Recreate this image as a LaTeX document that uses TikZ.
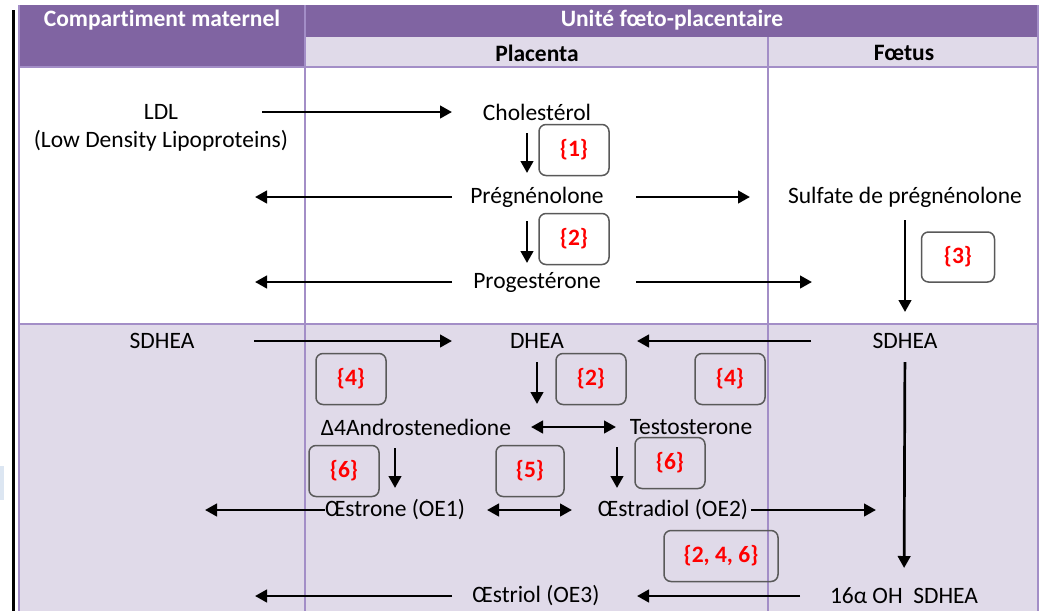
\documentclass[tikz,border=0pt]{standalone}
\usepackage{fontspec}
\setmainfont{Carlito}[Ligatures=NoCommon]
\usepackage{xcolor}
\usepackage{tikz}
\usetikzlibrary{arrows.meta}

\definecolor{hdpurple}{HTML}{8064A2}
\definecolor{lavender}{HTML}{E0DAE9}
\definecolor{gridline}{HTML}{A38EC7}
\definecolor{enzred}{HTML}{FF0000}
\definecolor{boxgray}{HTML}{595959}
\definecolor{patchblue}{HTML}{DCE6F2}

\newcommand\basefont{\fontsize{23.5}{28}\selectfont}

\tikzset{
  arr/.style={line width=2.7pt,-{Triangle[length=12pt,width=12.5pt]}},
  darr/.style={line width=2.7pt,{Triangle[length=12pt,width=12.5pt]}-{Triangle[length=12pt,width=12.5pt]}},
  enz/.style={draw=boxgray,line width=1.5pt,rounded corners=7pt,minimum width=70pt,minimum height=51pt,text=enzred,font=\basefont\bfseries},
  grid/.style={draw=gridline,line width=1.5pt},
  head/.style={text=white,font=\basefont\bfseries},
  subhead/.style={font=\basefont\bfseries},
}

\begin{document}
\begin{tikzpicture}[x=1pt,y=-1pt,font=\basefont]
\useasboundingbox (0,0) rectangle (1044,611);
% table
\fill[white] (0,0) rectangle (1044,611);
\fill[patchblue] (0,466) rectangle (4,500);
\fill[black] (11.5,10) rectangle (14.5,611);
\fill[hdpurple] (19,5) rectangle (1038,37);
\fill[hdpurple] (19,37) rectangle (305,67);
\fill[lavender] (305,37) rectangle (1038,67);
\fill[lavender] (19,324) rectangle (1038,611);
\draw[grid] (19,5) -- (19,611);
\draw[grid] (1038,5) -- (1038,611);
\draw[grid] (305,5) -- (305,611);
\draw[grid] (768,37) -- (768,611);
\draw[grid] (19,67) -- (1038,67);
\draw[grid] (19,324) -- (1038,324);

\node[head] at (162,20) (mat) {Compartiment maternel};
\node[head] at (672,20) (unit) {Unité fœto-placentaire};
\node[subhead] at (537,53) (plac) {Placenta};
\node[subhead] at (904,53) (foet) {Fœtus};

% molecules
\node at (161,112) (ldl) {LDL};
\node at (161,141) (ldlsub) {(Low Density Lipoproteins)};
\node at (537,112) (chol) {Cholestérol};
\node at (537,197) (preg) {Prégnénolone};
\node at (905,197) (spreg) {Sulfate de prégnénolone};
\node at (537,282) (prog) {Progestérone};
\node at (162,341) (sdheaM) {SDHEA};
\node at (537,341) (dhea) {DHEA};
\node at (905,341) (sdheaF) {SDHEA};
\node at (416,427) (andro) {Δ4Androstenedione};
\node at (691,427) (testo) {Testosterone};
\node at (395,510) (oe1) {Œstrone (OE1)};
\node at (673,510) (oe2) {Œstradiol (OE2)};
\node at (536,596) (oe3) {Œstriol (OE3)};
\node at (904,596) (oh) {16α OH\ \ SDHEA};

% enzymes
\node[enz] at (574,150) (e1) {\{1\}};
\node[enz] at (574,239) (e2) {\{2\}};
\node[enz,minimum width=73pt,minimum height=50pt] at (958,257) (e3) {\{3\}};
\node[enz] at (351,379) (e4a) {\{4\}};
\node[enz] at (591,379) (e2b) {\{2\}};
\node[enz] at (730,379) (e4b) {\{4\}};
\node[enz] at (344,471) (e6a) {\{6\}};
\node[enz,minimum width=68pt] at (530,471) (e5) {\{5\}};
\node[enz] at (670,463) (e6b) {\{6\}};
\node[enz,minimum width=114pt] at (721,556) (e246) {\{2, 4, 6\}};

% free ends
\coordinate (pregM) at (255,197);
\coordinate (progM) at (255,282);
\coordinate (progF) at (812,282);
\coordinate (dheaD) at (537,404);
\coordinate (oe1M) at (205,510);
\coordinate (oe2F) at (876,510);
\coordinate (oe3M) at (255,596);

% arrows
\path[arr] (ldl.center) edge[shorten <=101pt,shorten >=85pt] (chol.center);
\path[arr] ([xshift=-10pt]chol.center) edge[shorten <=21pt,shorten >=24pt] ([xshift=-10pt]preg.center);
\path[arr] (preg.center) edge[shorten <=85pt] (pregM);
\path[arr] (preg.center) edge[shorten <=99pt,shorten >=155pt] (spreg.center);
\path[arr] ([xshift=-10pt]preg.center) edge[shorten <=24pt,shorten >=19pt] ([xshift=-10pt]prog.center);
\path[arr] (prog.center) edge[shorten <=85pt] (progM);
\path[arr] (prog.center) edge[shorten <=99pt] (progF);
\path[arr] (spreg.center) edge[shorten <=23pt,shorten >=29pt] (sdheaF.center);
\path[arr] (sdheaM.center) edge[shorten <=92pt,shorten >=85pt] (dhea.center);
\path[arr] (sdheaF.center) edge[shorten <=94pt,shorten >=100pt] (dhea.center);
\path[arr] (sdheaF.center) edge[shorten <=21pt,shorten >=28pt] (oh.center);
\path[arr] (dhea.center) edge[shorten <=21pt] (dheaD);
\path[darr] (andro.center) edge[shorten <=115pt,shorten >=75pt] (testo.center);
\path[arr] (oe1.center |- andro.center) edge[shorten <=21pt,shorten >=22pt] (oe1.center);
\path[arr] ([xshift=-74pt]testo.center) edge[shorten <=20pt,shorten >=22pt] ([xshift=-56pt]oe2.center);
\path[arr] (oe1.center) edge[shorten <=70pt] (oe1M);
\path[darr] (oe1.center) edge[shorten <=92pt,shorten >=101pt] (oe2.center);
\path[arr] (oe2.center) edge[shorten <=78pt] (oe2F);
\path[arr] (oh.center) edge[shorten <=104pt,shorten >=101pt] (oe3.center);
\path[arr] (oe3.center) edge[shorten <=84pt] (oe3M);
\end{tikzpicture}
\end{document}
